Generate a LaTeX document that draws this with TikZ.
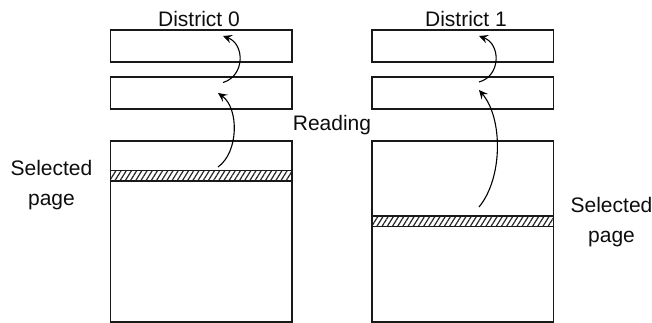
\documentclass[tikz,border=0pt]{standalone}
\usepackage{fontspec}
\setmainfont{Liberation Sans}
\usetikzlibrary{patterns.meta,arrows.meta}
\tikzset{
  x=1pt,y=-1pt,
  cell/.style={draw=black!90,line width=1.1pt,fill=white,minimum width=181.5pt,minimum height=32pt,inner sep=0pt,outer sep=0pt,anchor=north west},
  bigcell/.style={cell,minimum height=181pt},
  band/.style={draw=black!90,line width=1.1pt,minimum width=181.5pt,minimum height=10.5pt,inner sep=0pt,outer sep=0pt,anchor=north west,
    pattern={Lines[angle=58,distance=4.4pt,line width=1.2pt]},pattern color=black!85},
  label/.style={font=\fontsize{21}{29.5}\selectfont,inner sep=0pt,align=center,text=black!95},
  flow/.style={-{Stealth[length=9pt,width=8.5pt,inset=3.5pt]},line width=1.1pt,black}
}
\begin{document}
\begin{tikzpicture}
\useasboundingbox (0,0) rectangle (652,323);
\node[cell] (a1) at (110.5,30) {};
\node[cell] (a2) at (110.5,77) {};
\node[bigcell] (a3) at (110.5,141) {};
\node[band] (aband) at (110.5,170.5) {};
\node[cell] (b1) at (372,30) {};
\node[cell] (b2) at (372,77) {};
\node[bigcell] (b3) at (372,141) {};
\node[band] (bband) at (372,216) {};
\node[label] (t0) at (199,18.5) {District 0};
\node[label] (t1) at (466,18.5) {District 1};
\node[label] (read) at (332,125) {Reading};
\node[label] (s0) at (51.5,185) {Selected\\page};
\node[label] (s1) at (611.5,222) {Selected\\page};
\coordinate (p1) at (223,82.5);
\coordinate (p2) at (223,36);
\coordinate (p3) at (218,167);
\coordinate (p4) at (218,93);
\coordinate (q1) at (479,82);
\coordinate (q2) at (479,36);
\coordinate (q3) at (479,207);
\coordinate (q4) at (479,90);
\draw[flow] (p1) .. controls (245,76) and (245,44) .. (p2);
\draw[flow] (p3) .. controls (239,152) and (239,108) .. (p4);
\draw[flow] (q1) .. controls (501,76) and (501,44) .. (q2);
\draw[flow] (q3) .. controls (503,178) and (503,118) .. (q4);
\end{tikzpicture}
\end{document}
